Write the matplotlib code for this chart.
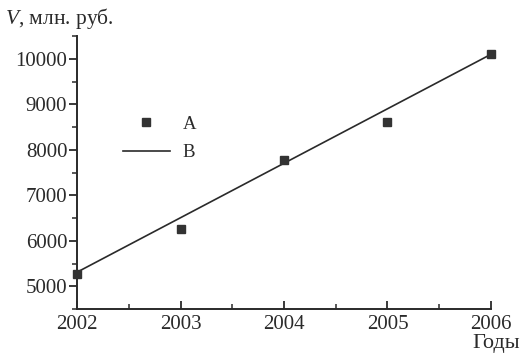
import matplotlib
matplotlib.use("Agg")
import matplotlib.pyplot as plt
from matplotlib.ticker import MultipleLocator

# Annual volume, million rubles
years = [2002, 2003, 2004, 2005, 2006]
volume = [5270, 6250, 7780, 8620, 10110]

# Trend line endpoints
trend_years = [2002, 2006]
trend_volume = [5310, 10100]

plt.rcParams['font.family'] = ['Liberation Serif', 'DejaVu Serif']
plt.rcParams['mathtext.fontset'] = 'custom'
plt.rcParams['mathtext.rm'] = 'Liberation Serif'
plt.rcParams['mathtext.it'] = 'Liberation Serif:italic'
ink = '#2a2a2a'

fig = plt.figure(figsize=(5.24, 3.54), dpi=100)
ax = fig.add_axes([0.147, 0.127, 0.790, 0.771])

ax.plot(years, volume, linestyle='none', marker='s', markersize=5.5,
        color='#333333', label='A', zorder=3, clip_on=False)
ax.plot(trend_years, trend_volume, color=ink, linewidth=1.2, label='B', zorder=2)

ax.set_xlim(2002, 2006)
ax.set_ylim(4500, 10500)
ax.xaxis.set_major_locator(MultipleLocator(1))
ax.xaxis.set_minor_locator(MultipleLocator(0.5))
ax.yaxis.set_major_locator(MultipleLocator(1000))
ax.yaxis.set_minor_locator(MultipleLocator(500))

for side in ('top', 'right'):
    ax.spines[side].set_visible(False)
for side in ('left', 'bottom'):
    ax.spines[side].set_linewidth(1.4)
    ax.spines[side].set_color(ink)

ax.tick_params(axis='y', which='major', direction='out', length=6, width=1.3,
               pad=1, labelsize=15, colors=ink)
ax.tick_params(axis='y', which='minor', direction='out', length=3.5, width=1.1, colors=ink)
ax.tick_params(axis='x', which='major', direction='in', length=6, width=1.3,
               pad=4, labelsize=15, colors=ink)
ax.tick_params(axis='x', which='minor', direction='in', length=3.5, width=1.1, colors=ink)

fig.text(0.010, 0.948, r'$\mathit{V}$' + ', млн. руб.', fontsize=15.5, color=ink,
         va='center', ha='left')
fig.text(0.992, 0.016, 'Годы', fontsize=16, color=ink, va='baseline', ha='right')

leg = ax.legend(loc='upper left', bbox_to_anchor=(0.07, 0.77), frameon=False,
                fontsize=13.5, handlelength=2.5, handletextpad=0.7, labelspacing=0.6,
                markerscale=1.0)
for t in leg.get_texts():
    t.set_color(ink)

fig.savefig('out.png', dpi=100, facecolor='white')
